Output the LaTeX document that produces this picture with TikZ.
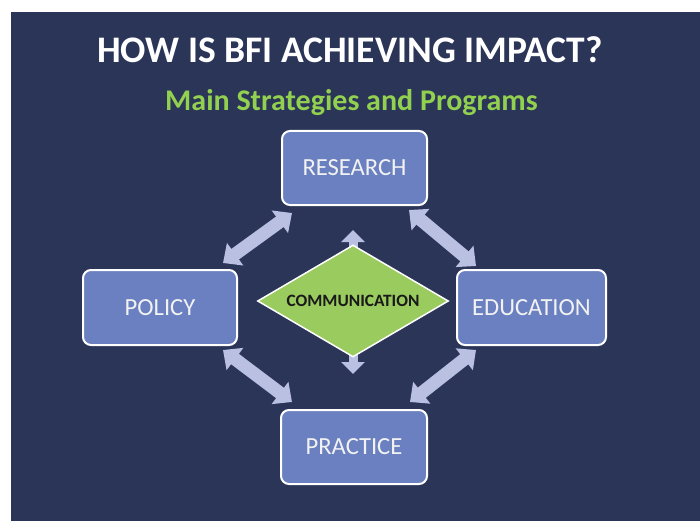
\documentclass[tikz,border=0pt]{standalone}
\usepackage{fontspec}
\setmainfont{Carlito}
\usetikzlibrary{shapes.geometric,arrows.meta,calc}
\definecolor{bgblue}{HTML}{2B3558}
\definecolor{boxblue}{HTML}{6A80C0}
\definecolor{arrowlav}{HTML}{B9C0E2}
\definecolor{diamgreen}{HTML}{9ACB5E}
\definecolor{subgreen}{HTML}{92D050}
\definecolor{boxtext}{HTML}{F2F2F2}
\tikzset{
  stratbox/.style={draw=white, line width=2pt, fill=boxblue, rounded corners=8pt,
    text=boxtext, font=\fontsize{24.6}{28}\selectfont, inner sep=0pt},
  diagarrow/.style={draw=arrowlav, line width=13pt,
    {Triangle[width=27pt,length=15pt]}-{Triangle[width=27pt,length=15pt]}},
  vertarrow/.style={draw=arrowlav, line width=9pt,
    {Triangle[width=23pt,length=12pt]}-{Triangle[width=23pt,length=12pt]}},
}
\begin{document}
\begin{tikzpicture}[x=1pt,y=-1pt]
\useasboundingbox (0,0) rectangle (700,521);
\fill[white] (0,0) rectangle (700,521);
\fill[bgblue] (11,12) rectangle (700,521);
% titles
\node[anchor=base, text=white, font=\bfseries\fontsize{37.5}{42}\selectfont, inner sep=0pt] (title) at (350,63) {HOW IS BFI ACHIEVING IMPACT?};
\node[anchor=base, text=subgreen, font=\bfseries\fontsize{30}{34}\selectfont, inner sep=0pt] (subtitle) at (351.5,111) {Main Strategies and Programs};
% boxes
\node[stratbox, minimum width=145pt, minimum height=74pt] (research) at (354.5,168) {RESEARCH};
\node[stratbox, minimum width=154pt, minimum height=75pt] (policy) at (160,307.5) {POLICY};
\node[stratbox, minimum width=149pt, minimum height=75pt] (education) at (531.5,307.5) {EDUCATION};
\node[stratbox, minimum width=146pt, minimum height=74pt] (practice) at (354,447) {PRACTICE};
% diagonal arrows
\draw[diagarrow] ($(policy.north east)+(-15,-6)$) -- ($(research.south west)+(11,7)$);
\draw[diagarrow] ($(research.south east)+(-19,4)$) -- ($(education.north west)+(20,-3)$);
\draw[diagarrow] ($(policy.south east)+(-15,4)$) -- ($(practice.north west)+(12,-7)$);
\draw[diagarrow] ($(education.south west)+(20,4)$) -- ($(practice.north east)+(-18,-7)$);
% communication
\coordinate (cc) at (353,301);
\draw[vertarrow] ($(cc)+(0,-71)$) -- ($(cc)+(0,73)$);
\node[diamond, draw=white, line width=1.5pt, fill=diamgreen, aspect=1.7, inner sep=0pt,
  minimum width=191pt, minimum height=112pt, text=black!90,
  font=\bfseries\fontsize{17.3}{20}\selectfont] (comm) at (cc) {COMMUNICATION};
\end{tikzpicture}
\end{document}
